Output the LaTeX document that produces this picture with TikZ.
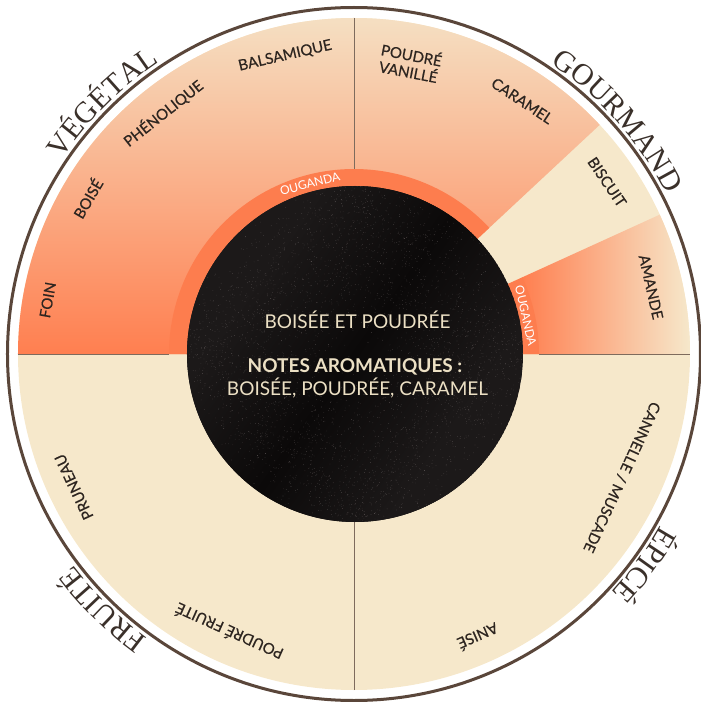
\documentclass[tikz,border=0pt]{standalone}
\usepackage{fontspec}
\setmainfont{Liberation Serif}
\newfontfamily\lato{Lato}
\newfontfamily\latom[FakeBold=0.5]{Lato}
\usetikzlibrary{decorations.text}
\definecolor{cream}{HTML}{F6E8CB}
\definecolor{peach}{HTML}{F5DFC2}
\definecolor{coral}{HTML}{FF7F50}
\definecolor{ringc}{HTML}{FD7D4E}
\definecolor{brownring}{HTML}{5A463A}
\definecolor{inktxt}{HTML}{2D2520}
\definecolor{lighttxt}{HTML}{ECE0C4}
\definecolor{divline}{HTML}{7E6B5D}
\definecolor{catc}{HTML}{3A302A}
\definecolor{blkA}{HTML}{1C1919}
\definecolor{blkB}{HTML}{0B0909}
\definecolor{speck}{HTML}{8F8585}
\pgfdeclarehorizontalshading{bandshade}{100bp}{color(0bp)=(blkA); color(32bp)=(blkA); color(50bp)=(blkB); color(68bp)=(blkA); color(100bp)=(blkA)}
\newcommand{\catfont}{\fontsize{30}{32}\selectfont\color{catc}}
\begin{document}
\begin{tikzpicture}[x=1pt,y=1pt,
  lbl/.style={font=\latom\fontsize{15}{17}\selectfont, text=inktxt, inner sep=0pt, align=center},
  oug/.style={font=\lato\fontsize{12}{14}\selectfont, text=white, inner sep=0pt},
  ctext/.style={font=\lato\fontsize{19}{22}\selectfont, text=lighttxt, inner sep=0pt},
  divider/.style={draw=divline, line width=0.7pt},
  cat/.style={decorate, decoration={text along path, text align=center, text={#1}}}]
\useasboundingbox (-354,-348) rectangle (347,354);

% base disc
\fill[cream] (0,0) circle (336);
% orange sector (Vegetal + Poudre/Caramel)
\begin{scope}
  \clip (0,0) -- (43:336) arc[start angle=43, end angle=180, radius=336] -- cycle;
  \shade[top color=peach, bottom color=coral] (-336,0) rectangle (336,336);
\end{scope}
% amande sector
\begin{scope}
  \clip (0,0) -- (0:336) arc[start angle=0, end angle=24.5, radius=336] -- cycle;
  \shade[left color=coral, right color=cream] (168,0) rectangle (336,140);
\end{scope}
% Ouganda rings
\fill[ringc] (43:185) arc[start angle=43, end angle=180, radius=185] -- (180:167) arc[start angle=180, end angle=43, radius=167] -- cycle;
\fill[ringc] (0:185) arc[start angle=0, end angle=24.5, radius=185] -- (24.5:167) arc[start angle=24.5, end angle=0, radius=167] -- cycle;

% dividers
\draw[divider] (90:185) -- (90:336);
\draw[divider] (180:185) -- (180:336);
\draw[divider] (270:167) -- (270:336);
\draw[divider] (0:185) -- (0:336);

% black centre with speckled texture
\begin{scope}[shift={(1,0)}]
  \clip (0,0) circle (168);
  \fill[blkA] (0,0) circle (168);
  \shade[shading=bandshade, shading angle=-35] (-170,-170) rectangle (170,170);
  \pgfmathsetseed{7}
  \fill[speck, opacity=0.25] \foreach \i in {1,...,1300} { ({360*rnd}:{168*sqrt(rnd)}) circle (0.4) };
  \fill[speck, opacity=0.45] \foreach \i in {1,...,1300} { ({360*rnd}:{168*sqrt(rnd)}) circle (0.35) };
  \fill[speck, opacity=0.7] \foreach \i in {1,...,900} { ({360*rnd}:{168*sqrt(rnd)}) circle (0.3) };
\end{scope}

% outer ring
\draw[brownring, line width=3pt] (0,0) circle (346.5);

% category labels
\path[cat={|\catfont|VÉGÉTAL}] (165:351) arc[start angle=165, end angle=105, radius=351];
\path[cat={|\catfont|GOURMAND}] (71.5:351) arc[start angle=71.5, end angle=11.5, radius=351];
\path[cat={|\catfont|ÉPICÉ}] (-6:351) arc[start angle=-6, end angle=-66, radius=351];
\path[cat={|\catfont|FRUITÉ}] (255.5:351) arc[start angle=255.5, end angle=195.5, radius=351];

% inner labels
\node[lbl, rotate=80] (foin) at (170:311) {FOIN};
\node[lbl, rotate=59.7] (boise) at (149.7:309) {BOISÉ};
\node[lbl, rotate=38.4] (phenol) at (128.4:307.5) {PHÉNOLIQUE};
\node[lbl, rotate=13] (balsa) at (103:306) {BALSAMIQUE};
\node[lbl, rotate=-10.9] (vanille) at (79.1:297) {POUDRÉ\\VANILLÉ};
\node[lbl, rotate=-33.6] (caramel) at (56.4:304) {CARAMEL};
\node[lbl, rotate=-55.8] (biscuit) at (34.2:306) {BISCUIT};
\node[lbl, rotate=-77.3] (amande) at (12.7:304.5) {AMANDE};
\node[lbl, rotate=115.4] (pruneau) at (205.4:310) {PRUNEAU};
\node[lbl, rotate=155.8] (pfruite) at (245.8:305) {POUDRÉ FRUITÉ};
\node[lbl, rotate=245.3] (cannelle) at (335.3:295) {CANNELLE / MUSCADE};
\node[lbl, rotate=203.7] (anise) at (293.7:309) {ANISÉ};

% Ouganda labels
\node[oug, rotate=14.5] (oug1) at (104.5:176) {OUGANDA};
\node[oug, rotate=-77.5] (oug2) at (12.5:176) {OUGANDA};

% centre texts
\node[ctext] (titre) at (3.5,34) {BOISÉE ET POUDRÉE};
\node[ctext, font=\lato\bfseries\fontsize{19}{22}\selectfont] (notes) at (1,-13) {NOTES AROMATIQUES :};
\node[ctext] (arom) at (3.5,-34) {BOISÉE, POUDRÉE, CARAMEL};
\end{tikzpicture}
\end{document}
